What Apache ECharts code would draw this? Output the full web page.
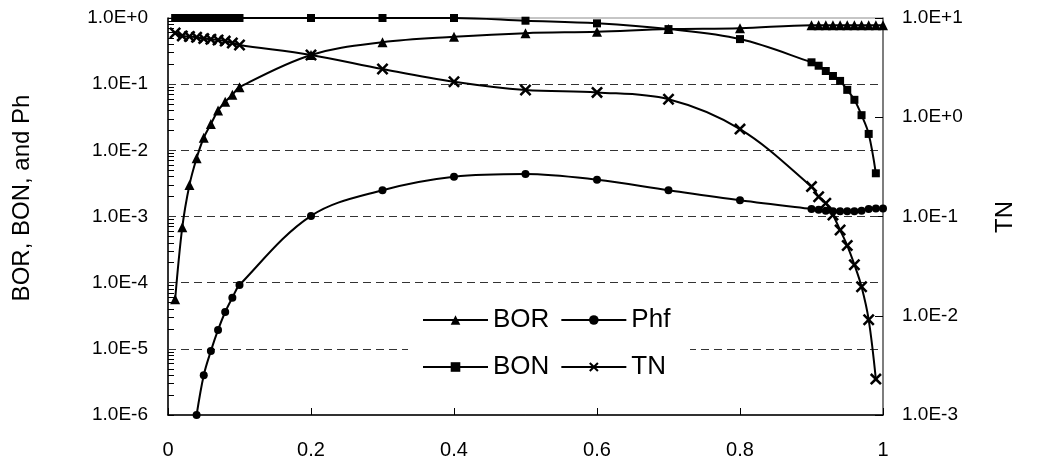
<!DOCTYPE html>
<html>
<head>
<meta charset="utf-8">
<script src="https://cdn.jsdelivr.net/npm/echarts@6/dist/echarts.min.js"></script>
<style>
html,body{margin:0;padding:0;background:#fff;}
#chart{width:1038px;height:471px;}
</style>
</head>
<body>
<div id="chart"></div>
<script>
// ---- data ----
const borX = [0.01,0.02,0.03,0.04,0.05,0.06,0.07,0.08,0.09,0.1,0.2,0.3,0.4,0.5,0.6,0.7,0.8,0.9,0.91,0.92,0.93,0.94,0.95,0.96,0.97,0.98,0.99,1.0];
const borY = [5.6e-5,6.9e-4,3.0e-3,7.6e-3,0.0155,0.025,0.040,0.054,0.069,0.090,0.276,0.43,0.52,0.59,0.62,0.68,0.70,0.78,0.78,0.78,0.78,0.78,0.78,0.78,0.78,0.78,0.78,0.78];

const bonX = [0.01,0.02,0.03,0.04,0.05,0.06,0.07,0.08,0.09,0.1,0.2,0.3,0.4,0.5,0.6,0.7,0.8,0.9,0.91,0.92,0.93,0.94,0.95,0.96,0.97,0.98,0.99];
const bonY = [1,1,1,1,1,1,1,1,1,1,1,1,1,0.91,0.83,0.68,0.48,0.214,0.19,0.158,0.133,0.112,0.082,0.058,0.034,0.0177,0.0045];

const phfX = [0.04,0.05,0.06,0.07,0.08,0.09,0.1,0.2,0.3,0.4,0.5,0.6,0.7,0.8,0.9,0.91,0.92,0.93,0.94,0.95,0.96,0.97,0.98,0.99,1.0];
const phfY = [1.0e-6,4.0e-6,9.3e-6,1.93e-5,3.6e-5,5.9e-5,9.2e-5,1.02e-3,2.5e-3,4.0e-3,4.4e-3,3.6e-3,2.5e-3,1.76e-3,1.3e-3,1.27e-3,1.22e-3,1.2e-3,1.2e-3,1.2e-3,1.2e-3,1.22e-3,1.3e-3,1.32e-3,1.32e-3];

const tnX = [0.01,0.02,0.03,0.04,0.05,0.06,0.07,0.08,0.09,0.1,0.2,0.3,0.4,0.5,0.6,0.7,0.8,0.9,0.91,0.92,0.93,0.94,0.95,0.96,0.97,0.98,0.99];
const tnY = [7.06,6.6,6.5,6.4,6.2,6.1,6.0,5.85,5.6,5.35,4.24,3.06,2.28,1.88,1.78,1.52,0.76,0.2,0.158,0.136,0.1035,0.073,0.051,0.0327,0.0196,0.0091,0.0023];

const xTicks = [0,0.2,0.4,0.6,0.8,1];
const gridDecades = [1e-1,1e-2,1e-3,1e-4,1e-5];
const leftName = 'BOR, BON, and Ph';
const rightName = 'TN';

// ---- chart ----
const zip = (xs, ys) => xs.map((x, i) => [x, ys[i]]);
const FONT = 'Liberation Sans, Arial, sans-serif';
const sciLabel = v => {
  const e = Math.round(Math.log10(v));
  return '1.0E' + (e < 0 ? '-' : '+') + Math.abs(e);
};
const crossPath = 'path://M0,1.5L1.5,0L5,3.5L8.5,0L10,1.5L6.5,5L10,8.5L8.5,10L5,6.5L1.5,10L0,8.5L3.5,5Z';

// tick positions of the left log axis: every k * 10^e (major and minor)
const leftTickVals = [];
for (let e = -6; e < 0; e++) for (let k = 1; k <= 9; k++) leftTickVals.push(+(k * Math.pow(10, e)).toPrecision(3));
leftTickVals.push(1);

const chart = echarts.init(document.getElementById('chart'), null, {renderer: 'canvas'});
const lineBase = {
  type: 'line',
  smooth: 0.35,
  lineStyle: {color: '#000', width: 2},
  itemStyle: {color: '#000'},
  emphasis: {disabled: true},
  animation: false,
  clip: true
};
const legendBase = {
  itemWidth: 65, itemHeight: 12, itemGap: 11, selectedMode: false,
  backgroundColor: '#fff',
  textStyle: {fontSize: 26, fontFamily: FONT, color: '#000'}
};
chart.setOption({
  animation: false,
  backgroundColor: '#fff',
  grid: {left: 168, right: 155, top: 18, bottom: 56, show: true, borderColor: '#8c8c8c', borderWidth: 1, backgroundColor: 'transparent'},
  xAxis: {
    type: 'value', min: 0, max: 1, interval: 0.2,
    axisLine: {show: true, lineStyle: {color: '#000', width: 1.5}},
    axisTick: {show: true, inside: true, length: 7, lineStyle: {color: '#000'}},
    axisLabel: {margin: 25, fontSize: 20, fontFamily: FONT, color: '#000',
      formatter: v => { const t = xTicks.find(a => Math.abs(a - v) < 1e-9); return t === undefined ? '' : String(t); }},
    splitLine: {show: false}
  },
  yAxis: [{
    type: 'log', logBase: 10, min: 1e-6, max: 1, interval: 1,
    axisLine: {show: true, lineStyle: {color: '#000', width: 1.5}},
    axisTick: {show: true, inside: true, length: 6, customValues: leftTickVals, lineStyle: {color: '#000'}},
    axisLabel: {margin: 20, fontSize: 19, fontFamily: FONT, color: '#000', formatter: sciLabel},
    splitLine: {show: false}
  }, {
    type: 'log', logBase: 10, min: 1e-3, max: 10, interval: 1,
    position: 'right',
    axisLine: {show: true, lineStyle: {color: '#666', width: 1.5}},
    axisTick: {show: true, inside: true, length: 8, lineStyle: {color: '#000'}},
    axisLabel: {margin: 19, fontSize: 19, fontFamily: FONT, color: '#000', formatter: sciLabel},
    splitLine: {show: false}
  }],
  legend: [
    Object.assign({}, legendBase, {data: ['BOR', 'Phf'], left: 408, top: 296, padding: [11, 18, 10, 14]}),
    Object.assign({}, legendBase, {data: ['BON', 'TN'], left: 408, top: 342, padding: [12, 24, 12, 14]})
  ],
  graphic: [{
    type: 'text', x: 22, y: 198, rotation: Math.PI / 2,
    style: {text: leftName, font: '24px ' + FONT, fill: '#000', align: 'center', verticalAlign: 'middle'}
  }, {
    type: 'text', x: 1005, y: 217, rotation: Math.PI / 2,
    style: {text: rightName, font: '24px ' + FONT, fill: '#000', align: 'center', verticalAlign: 'middle'}
  }],
  series: [
    Object.assign({}, lineBase, {name: 'BOR', yAxisIndex: 0, symbol: 'triangle', symbolSize: 10, data: zip(borX, borY),
      z: 3,
      markLine: {
        silent: true, symbol: ['none', 'none'], animation: false, z: 1,
        precision: 10,
        label: {show: false},
        emphasis: {disabled: true},
        lineStyle: {color: '#333', width: 1, type: [8, 5]},
        data: gridDecades.map(v => ({yAxis: v}))
      }}),
    Object.assign({}, lineBase, {name: 'Phf', yAxisIndex: 0, symbol: 'circle', symbolSize: 8, data: zip(phfX, phfY)}),
    Object.assign({}, lineBase, {name: 'BON', yAxisIndex: 0, symbol: 'rect', symbolSize: 8, data: zip(bonX, bonY)}),
    Object.assign({}, lineBase, {name: 'TN', yAxisIndex: 1, symbol: crossPath, symbolSize: 12, data: zip(tnX, tnY)})
  ]
});
</script>
</body>
</html>
